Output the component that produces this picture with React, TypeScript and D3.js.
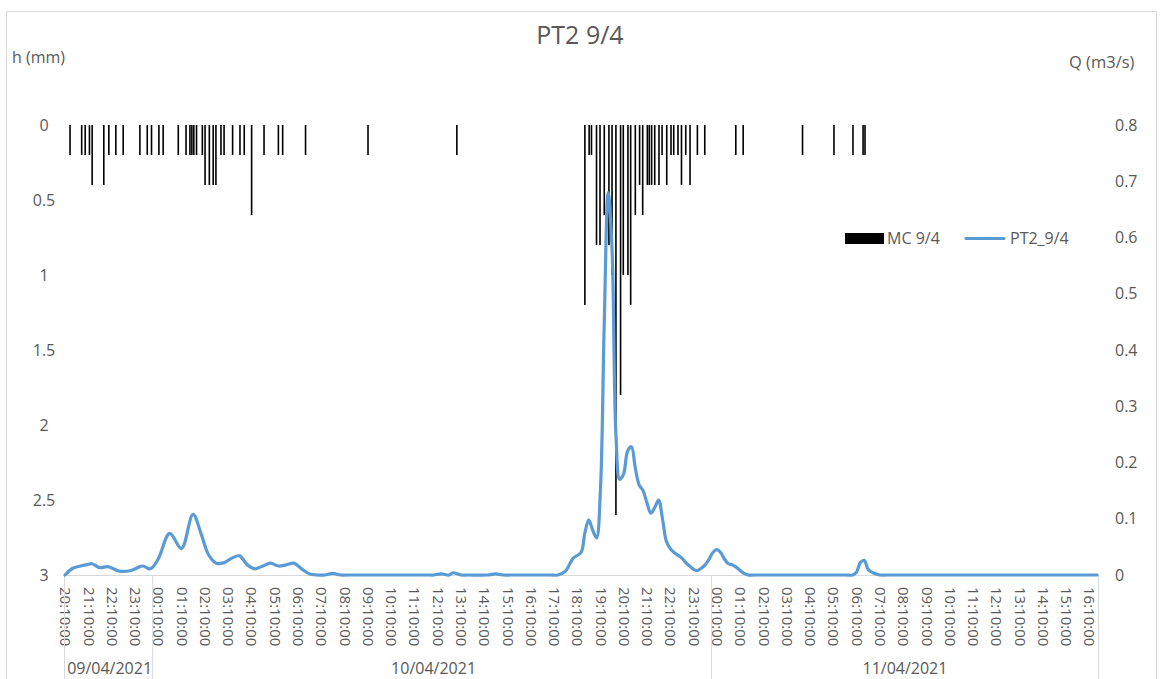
import React, { useEffect, useRef } from "react";
import * as d3 from "d3";

// rain gauge MC 9/4 (mm per tip record)
const rainTimes = [
  "2021-04-09 20:23", "2021-04-09 20:53", "2021-04-09 21:02", "2021-04-09 21:13", "2021-04-09 21:20",
  "2021-04-09 21:50", "2021-04-09 22:03", "2021-04-09 22:21", "2021-04-09 22:40", "2021-04-09 23:23",
  "2021-04-09 23:42", "2021-04-09 23:53", "2021-04-10 00:12", "2021-04-10 00:23", "2021-04-10 01:02",
  "2021-04-10 01:22", "2021-04-10 01:32", "2021-04-10 01:37", "2021-04-10 01:42", "2021-04-10 01:49",
  "2021-04-10 02:04", "2021-04-10 02:11", "2021-04-10 02:22", "2021-04-10 02:32", "2021-04-10 02:39",
  "2021-04-10 02:52", "2021-04-10 03:00", "2021-04-10 03:22", "2021-04-10 03:41", "2021-04-10 03:52",
  "2021-04-10 04:11", "2021-04-10 04:43", "2021-04-10 05:20", "2021-04-10 05:31", "2021-04-10 06:30",
  "2021-04-10 09:11", "2021-04-10 13:00", "2021-04-10 18:30", "2021-04-10 18:41", "2021-04-10 18:47",
  "2021-04-10 19:00", "2021-04-10 19:09", "2021-04-10 19:20", "2021-04-10 19:32", "2021-04-10 19:40",
  "2021-04-10 19:50", "2021-04-10 20:02", "2021-04-10 20:09", "2021-04-10 20:21", "2021-04-10 20:28",
  "2021-04-10 20:40", "2021-04-10 20:51", "2021-04-10 20:59", "2021-04-10 21:11", "2021-04-10 21:16",
  "2021-04-10 21:22", "2021-04-10 21:30", "2021-04-10 21:41", "2021-04-10 21:49", "2021-04-10 22:01",
  "2021-04-10 22:12", "2021-04-10 22:19", "2021-04-10 22:30", "2021-04-10 22:39", "2021-04-10 22:50",
  "2021-04-10 23:01", "2021-04-10 23:20", "2021-04-10 23:39", "2021-04-11 00:59", "2021-04-11 01:18",
  "2021-04-11 03:51", "2021-04-11 05:12", "2021-04-11 06:01", "2021-04-11 06:27", "2021-04-11 06:32",
];
const rainDepths = [
  0.2, 0.2, 0.2, 0.2, 0.4,
  0.4, 0.2, 0.2, 0.2, 0.2,
  0.2, 0.2, 0.2, 0.2, 0.2,
  0.2, 0.2, 0.2, 0.2, 0.2,
  0.2, 0.4, 0.4, 0.4, 0.4,
  0.2, 0.2, 0.2, 0.2, 0.2,
  0.6, 0.2, 0.2, 0.2, 0.2,
  0.2, 0.2, 1.2, 0.2, 0.2,
  0.8, 0.8, 0.6, 0.8, 1.0,
  2.6, 1.8, 1.0, 1.0, 1.2,
  0.6, 0.4, 0.6, 0.4, 0.4,
  0.4, 0.4, 0.4, 0.2, 0.4,
  0.2, 0.2, 0.2, 0.4, 0.2,
  0.4, 0.2, 0.2, 0.2, 0.2,
  0.2, 0.2, 0.2, 0.2, 0.2,
];

// discharge PT2_9/4 (m3/s)
const flowTimes = [
  "2021-04-09 20:10", "2021-04-09 20:30", "2021-04-09 20:50", "2021-04-09 21:10", "2021-04-09 21:20",
  "2021-04-09 21:40", "2021-04-09 22:00", "2021-04-09 22:30", "2021-04-09 23:00", "2021-04-09 23:30",
  "2021-04-09 23:50", "2021-04-10 00:10", "2021-04-10 00:40", "2021-04-10 01:10", "2021-04-10 01:40",
  "2021-04-10 02:00", "2021-04-10 02:20", "2021-04-10 02:40", "2021-04-10 03:00", "2021-04-10 03:20",
  "2021-04-10 03:40", "2021-04-10 04:00", "2021-04-10 04:20", "2021-04-10 04:40", "2021-04-10 05:00",
  "2021-04-10 05:20", "2021-04-10 05:40", "2021-04-10 06:00", "2021-04-10 06:20", "2021-04-10 06:40",
  "2021-04-10 07:00", "2021-04-10 07:20", "2021-04-10 07:40", "2021-04-10 08:00", "2021-04-10 08:20",
  "2021-04-10 11:50", "2021-04-10 12:00", "2021-04-10 12:20", "2021-04-10 12:40", "2021-04-10 12:50",
  "2021-04-10 13:10", "2021-04-10 13:30", "2021-04-10 14:20", "2021-04-10 14:40", "2021-04-10 15:00",
  "2021-04-10 15:20", "2021-04-10 17:00", "2021-04-10 17:20", "2021-04-10 17:40", "2021-04-10 18:00",
  "2021-04-10 18:20", "2021-04-10 18:30", "2021-04-10 18:40", "2021-04-10 18:50", "2021-04-10 19:00",
  "2021-04-10 19:10", "2021-04-10 19:20", "2021-04-10 19:30", "2021-04-10 19:40", "2021-04-10 19:50",
  "2021-04-10 20:00", "2021-04-10 20:10", "2021-04-10 20:20", "2021-04-10 20:30", "2021-04-10 20:40",
  "2021-04-10 20:50", "2021-04-10 21:00", "2021-04-10 21:10", "2021-04-10 21:20", "2021-04-10 21:30",
  "2021-04-10 21:40", "2021-04-10 21:50", "2021-04-10 22:00", "2021-04-10 22:10", "2021-04-10 22:20",
  "2021-04-10 22:30", "2021-04-10 22:40", "2021-04-10 22:50", "2021-04-10 23:00", "2021-04-10 23:10",
  "2021-04-10 23:20", "2021-04-10 23:30", "2021-04-10 23:40", "2021-04-10 23:50", "2021-04-11 00:00",
  "2021-04-11 00:10", "2021-04-11 00:20", "2021-04-11 00:30", "2021-04-11 00:40", "2021-04-11 00:50",
  "2021-04-11 01:00", "2021-04-11 01:10", "2021-04-11 01:20", "2021-04-11 01:30", "2021-04-11 01:50",
  "2021-04-11 05:40", "2021-04-11 06:00", "2021-04-11 06:10", "2021-04-11 06:20", "2021-04-11 06:30",
  "2021-04-11 06:40", "2021-04-11 06:50", "2021-04-11 07:00", "2021-04-11 07:10", "2021-04-11 07:30",
  "2021-04-11 16:30",
];
const flowValues = [
  0, 0.012, 0.016, 0.019, 0.02,
  0.013, 0.015, 0.007, 0.008, 0.016,
  0.011, 0.028, 0.074, 0.047, 0.108,
  0.075, 0.036, 0.021, 0.022, 0.03,
  0.034, 0.018, 0.011, 0.016, 0.021,
  0.016, 0.018, 0.021, 0.011, 0.002,
  0, 0, 0.003, 0, 0,
  0, 0, 0.002, 0, 0.004,
  0, 0, 0, 0.002, 0,
  0, 0, 0, 0.007, 0.03,
  0.04, 0.075, 0.098, 0.08, 0.066,
  0.15, 0.45, 0.68, 0.58, 0.25,
  0.17, 0.18, 0.22, 0.228, 0.19,
  0.16, 0.15, 0.128, 0.11, 0.12,
  0.133, 0.1, 0.06, 0.047, 0.04,
  0.035, 0.03, 0.022, 0.016, 0.01,
  0.008, 0.012, 0.018, 0.028, 0.04,
  0.045, 0.04, 0.028, 0.02, 0.018,
  0.014, 0.008, 0.003, 0, 0,
  0, 0, 0.005, 0.022, 0.026,
  0.01, 0.005, 0.002, 0, 0,
  0,
];

const dayLabels = ["09/04/2021", "10/04/2021", "11/04/2021"];
const dayBounds = ["2021-04-09 20:10", "2021-04-10 00:00", "2021-04-11 00:00", "2021-04-11 16:30"];
const hTicks = [0, 0.5, 1, 1.5, 2, 2.5, 3];
const qTicks = [0, 0.1, 0.2, 0.3, 0.4, 0.5, 0.6, 0.7, 0.8];

function App() {
  const ref = useRef<SVGSVGElement>(null);

  useEffect(() => {
    const width = 1160;
    const height = 679;
    const top = 125;
    const bottom = 575;
    const textColor = "#595959";
    const font = "'Open Sans', 'Liberation Sans', sans-serif";

    const parse = d3.timeParse("%Y-%m-%d %H:%M");
    const start = parse(dayBounds[0]) as Date;
    const end = parse(dayBounds[3]) as Date;

    const x = d3.scaleTime().domain([start, end]).range([65, 1097]);
    const h = d3.scaleLinear().domain([0, 3]).range([top, bottom]);
    const q = d3.scaleLinear().domain([0, 0.8]).range([bottom, top]);

    const svg = d3.select(ref.current);
    svg.selectAll("*").remove();
    svg.style("font-family", font);

    svg.append("rect")
      .attr("x", 0).attr("y", 0).attr("width", width).attr("height", height)
      .attr("fill", "#fff");
    svg.append("rect")
      .attr("x", 6.5).attr("y", 11.5).attr("width", 1150).attr("height", 700)
      .attr("fill", "none").attr("stroke", "#d9d9d9");

    // title + axis names
    svg.append("text")
      .attr("x", 580).attr("y", 44).attr("text-anchor", "middle")
      .attr("font-size", 25).attr("fill", textColor).text("PT2 9/4");
    svg.append("text")
      .attr("x", 12).attr("y", 63).attr("font-size", 16).attr("fill", textColor).text("h (mm)");
    svg.append("text")
      .attr("x", 1069).attr("y", 68).attr("font-size", 16.5).attr("fill", textColor).text("Q (m3/s)");

    // left axis (rain, reversed)
    const yLeft = svg.append("g")
      .attr("transform", "translate(44,0)")
      .call(d3.axisLeft(h).tickValues(hTicks).tickSize(0).tickPadding(0).tickFormat(d3.format("")));
    yLeft.select(".domain").remove();
    yLeft.selectAll("text")
      .attr("text-anchor", "middle").attr("font-size", 16).attr("font-family", font).attr("fill", textColor);

    // right axis (discharge)
    const yRight = svg.append("g")
      .attr("transform", "translate(1115,0)")
      .call(d3.axisRight(q).tickValues(qTicks).tickSize(0).tickPadding(0).tickFormat(d3.format("")));
    yRight.select(".domain").remove();
    yRight.selectAll("text")
      .attr("font-size", 16).attr("font-family", font).attr("fill", textColor);

    // x axis, hourly labels rotated
    const hourTicks = d3.range(0, 45).map(i => d3.timeHour.offset(start, i));
    const xAxis = svg.append("g")
      .attr("transform", `translate(0,${bottom})`)
      .call(d3.axisBottom(x).tickValues(hourTicks).tickSize(0).tickFormat(d3.timeFormat("%H:%M:%S") as any));
    xAxis.select(".domain").remove();
    xAxis.selectAll("text")
      .attr("transform", "rotate(90)")
      .attr("x", 12).attr("y", 0).attr("dy", "0.35em")
      .attr("text-anchor", "start")
      .attr("font-size", 15).attr("font-family", font).attr("fill", textColor);

    svg.append("line")
      .attr("x1", 64).attr("x2", 1098).attr("y1", bottom + 0.5).attr("y2", bottom + 0.5)
      .attr("stroke", "#d9d9d9");

    // day separators and labels
    const bounds = dayBounds.map(d => parse(d) as Date);
    bounds.forEach((d, i) => {
      let bx = x(d);
      if (i === 0) bx = 64;
      else if (i === bounds.length - 1) bx = 1098;
      else bx = bx - 2;
      svg.append("line")
        .attr("x1", bx + 0.5).attr("x2", bx + 0.5).attr("y1", bottom).attr("y2", height)
        .attr("stroke", "#d9d9d9");
    });
    dayLabels.forEach((label, i) => {
      const cx = (x(bounds[i]) + x(bounds[i + 1])) / 2;
      svg.append("text")
        .attr("x", cx).attr("y", 674).attr("text-anchor", "middle")
        .attr("font-size", 16).attr("fill", textColor).text(label);
    });

    // rain bars hanging from the top
    const rain = rainTimes.map((t, i) => ({ t: parse(t) as Date, v: rainDepths[i] }));
    svg.append("g")
      .attr("fill", "#000")
      .selectAll("rect")
      .data(rain)
      .enter()
      .append("rect")
      .attr("x", d => x(d.t) - 0.8)
      .attr("y", h(0))
      .attr("width", 1.6)
      .attr("height", d => h(d.v) - h(0));

    // discharge line
    const flow = flowTimes.map((t, i) => ({ t: parse(t) as Date, v: flowValues[i] }));
    const line = d3.line<{ t: Date; v: number }>()
      .x(d => x(d.t))
      .y(d => Math.min(q(d.v), bottom))
      .curve(d3.curveCatmullRom.alpha(0.5));
    svg.append("path")
      .datum(flow)
      .attr("fill", "none")
      .attr("stroke", "#5b9bd5")
      .attr("stroke-width", 3.2)
      .attr("stroke-linejoin", "round")
      .attr("stroke-linecap", "round")
      .attr("d", line);

    // legend
    svg.append("rect")
      .attr("x", 845).attr("y", 233).attr("width", 39).attr("height", 11).attr("fill", "#000");
    svg.append("text")
      .attr("x", 887).attr("y", 244).attr("font-size", 16).attr("fill", textColor).text("MC 9/4");
    svg.append("line")
      .attr("x1", 966).attr("x2", 1004).attr("y1", 238.5).attr("y2", 238.5)
      .attr("stroke", "#5b9bd5").attr("stroke-width", 3.2).attr("stroke-linecap", "round");
    svg.append("text")
      .attr("x", 1010).attr("y", 244).attr("font-size", 16).attr("fill", textColor).text("PT2_9/4");
  }, []);

  return (
    <svg
      ref={ref}
      width={1160}
      height={679}
      style={{ position: "absolute", left: 0, top: 0 }}
    />
  );
}

export default App;
